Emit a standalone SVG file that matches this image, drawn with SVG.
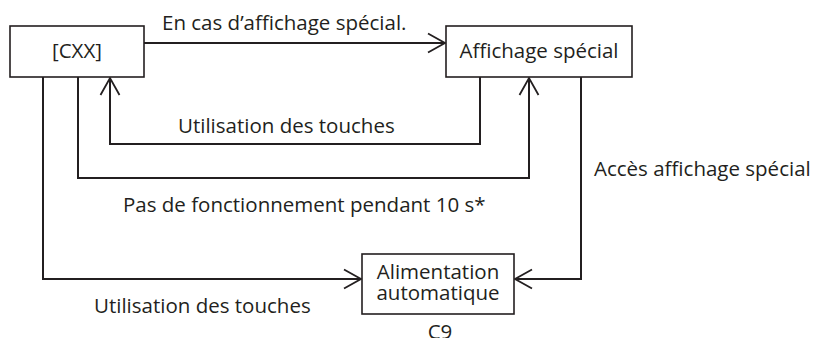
<svg xmlns="http://www.w3.org/2000/svg" width="816" height="338" viewBox="0 0 816 338">
<style>
text{font-family:"Open Sans","Noto Sans",sans-serif;font-size:20.5px;fill:#231f20}
.box{fill:#fff;stroke:#231f20;stroke-width:1.6}
.c{fill:none;stroke:#231f20;stroke-width:2}
.m{text-anchor:middle}
</style>
<defs>
<marker id="ah" markerUnits="userSpaceOnUse" markerWidth="24" markerHeight="24" viewBox="-20 -12 24 24" refX="0" refY="0" orient="auto">
<path d="M-17,-9.5 L0,0 L-17,9.5" fill="none" stroke="#231f20" stroke-width="1.8"/>
</marker>
</defs>
<rect width="816" height="338" fill="#fff"/>
<g id="connectors">
<path class="c" d="M144,43 H445" marker-end="url(#ah)"/>
<path class="c" d="M480,77 V144 H110 V78" marker-end="url(#ah)"/>
<path class="c" d="M78,77 V178 H529 V78" marker-end="url(#ah)"/>
<path class="c" d="M43,77 V279 H361" marker-end="url(#ah)"/>
<path class="c" d="M581,77 V279 H515" marker-end="url(#ah)"/>
</g>
<g id="labels">
<text x="162" y="30">En cas d’affichage spécial.</text>
<text x="178" y="133">Utilisation des touches</text>
<text x="123" y="212">Pas de fonctionnement pendant 10 s*</text>
<text x="594" y="176">Accès affichage spécial</text>
<text x="94" y="313">Utilisation des touches</text>
<text x="440" y="339" class="m">C9</text>
</g>
<g id="node-cxx">
<rect class="box" x="10" y="26" width="134" height="51"/>
<text x="77" y="58" class="m">[CXX]</text>
</g>
<g id="node-affichage">
<rect class="box" x="446" y="26" width="186" height="51"/>
<text x="539" y="58" class="m">Affichage spécial</text>
</g>
<g id="node-alimentation">
<rect class="box" x="362" y="254" width="152" height="60"/>
<text x="438" y="279" class="m">Alimentation</text>
<text x="438" y="300" class="m">automatique</text>
</g>
</svg>
